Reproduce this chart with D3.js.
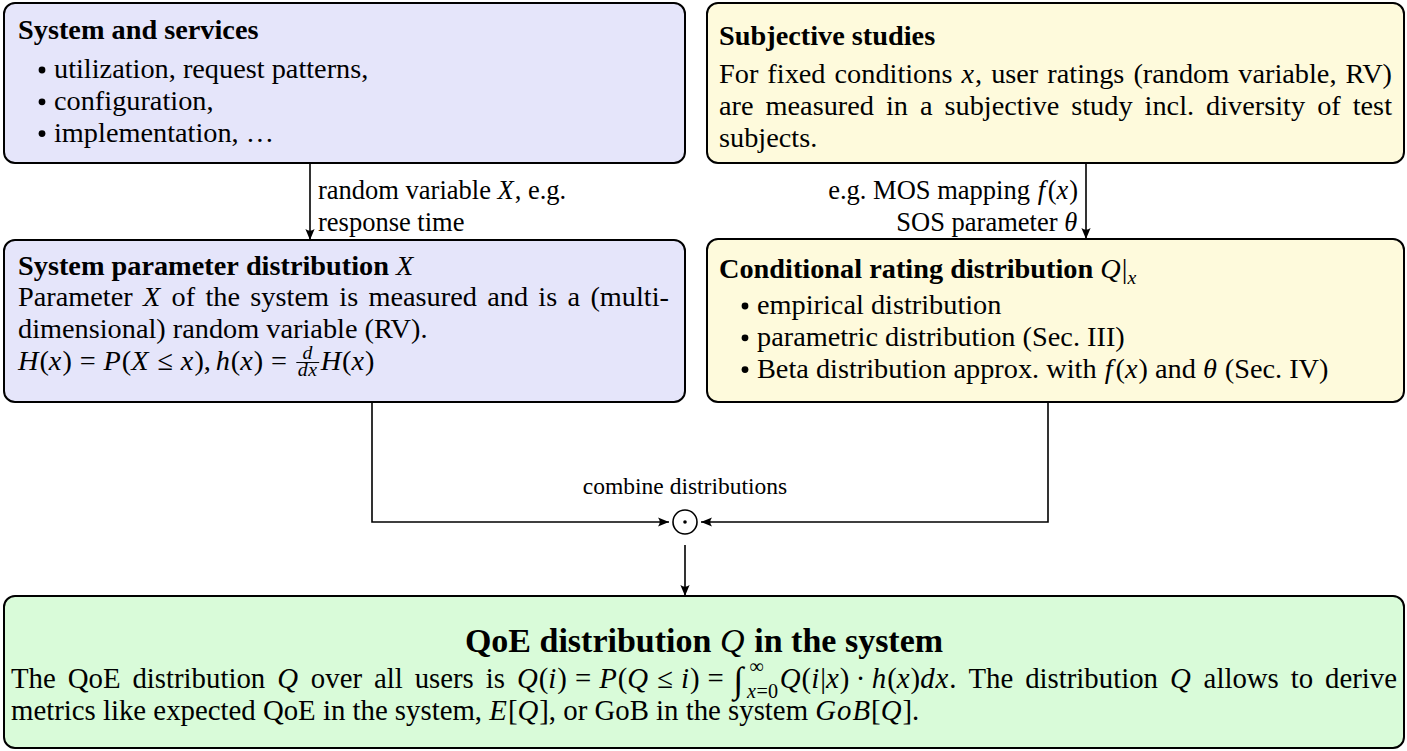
<!DOCTYPE html><html><meta charset="UTF-8">
<title>QoE distribution</title>
<style>
body{margin:0;overflow:hidden;background:#fff}
text{font-family:"Liberation Serif","Times New Roman",serif;fill:#000}
.box{stroke:#000;stroke-width:2}
.wire{stroke:#000;stroke-width:1.6;fill:none}
</style>
<script src="https://d3js.org/d3.v7.min.js"></script>
<svg width="1407" height="751"></svg>
<script>

// texts of the nodes, with $...$ for math
var sysTitle = "System and services",
    sysItems = ["utilization, request patterns,", "configuration,", "implementation, $\\ldots$"],
    studyTitle = "Subjective studies",
    studyText = ["For fixed conditions $x$, user ratings (random variable, RV)",
                 "are measured in a subjective study incl. diversity of test",
                 "subjects."],
    paramTitle = "System parameter distribution $X$",
    paramText = ["Parameter $X$ of the system is measured and is a (multi-",
                 "dimensional) random variable (RV).",
                 "$H(x) = P(X \\leq x), h(x) = \\frac{d}{dx}H(x)$"],
    ratingTitle = "Conditional rating distribution $Q|_{x}$",
    ratingItems = ["empirical distribution", "parametric distribution (Sec. III)",
                   "Beta distribution approx. with $f(x)$ and $\\theta$ (Sec. IV)"],
    leftLabel = ["random variable $X$, e.g.", "response time"],
    rightLabel = ["e.g. MOS mapping $f(x)$", "SOS parameter $\\theta$"],
    combineLabel = "combine distributions",
    qoeTitle = "QoE distribution $Q$ in the system",
    qoeText = ["The QoE distribution $Q$ over all users is $Q(i) = P(Q \\leq i) = \\int_{x=0}^{\\infty} Q(i|x) \\cdot h(x)dx$. The distribution $Q$ allows to derive",
               "metrics like expected QoE in the system, $E[Q]$, or GoB in the system $GoB[Q]$."];

var svg = d3.select("svg"),
    FS = 28.3;

var meas = svg.append("text").attr("x", -999).attr("y", -999).style("visibility", "hidden");

function fontAttrs(sel, style, fs) {
  sel.attr("font-size", fs)
     .attr("font-style", style.indexOf("i") >= 0 ? "italic" : "normal")
     .attr("font-weight", style.indexOf("b") >= 0 ? "bold" : "normal");
}
function textW(t, style, fs) {
  meas.text(t).call(fontAttrs, style, fs);
  return meas.node().getComputedTextLength();
}

// a single run of text with optional room on both sides
function glyph(t, style, fs, dy, padL, padR) {
  padL = padL || 0; padR = padR || 0;
  return {w: textW(t, style, fs) + padL + padR, draw: function(g, x, y) {
    g.append("text").attr("x", x + padL).attr("y", y + (dy || 0)).call(fontAttrs, style, fs).text(t);
  }};
}

var syms = {leq: "\u2264", infty: "\u221e", theta: "\u03b8", cdot: "\u00b7", ldots: "\u2026", int: "\u222b"};

function parseMath(s, fs, script) {
  var i = 0, out = [];
  var thick = script ? 0 : fs * 0.278, med = script ? 0 : fs * 0.222, thin = script ? 0 : fs * 0.167;
  function group() {
    if (s[i] === "{") {
      var d = 1, j = i + 1;
      while (d) { if (s[j] === "{") d++; else if (s[j] === "}") d--; j++; }
      var g = s.slice(i + 1, j - 1); i = j; return g;
    }
    return s[i++];
  }
  while (i < s.length) {
    var c = s[i];
    if (c === " ") { i++; continue; }
    if (c === "_" || c === "^") {
      var base = out.pop(), sub = null, sup = null;
      while (s[i] === "_" || s[i] === "^") {
        var k = s[i++], gr = group();
        if (k === "_") sub = gr; else sup = gr;
      }
      out.push(scripts(base, sub && parseMath(sub, fs * 0.7, true), sup && parseMath(sup, fs * 0.7, true), fs));
      continue;
    }
    if (c === "\\") {
      var m = /^\\([a-zA-Z]+)/.exec(s.slice(i)); i += m[0].length;
      var name = m[1], ch = syms[name];
      if (name === "frac") {
        var n = group(), dn = group();
        out.push(frac(parseMath(n, fs * 0.7, true), parseMath(dn, fs * 0.7, true), fs));
      } else if (name === "int") {
        var ig = glyph(ch, "r", fs * 1.25, fs * 0.14, fs * 0.06, fs * 0.12);
        ig.integral = true; out.push(ig);
      } else if (name === "leq") {
        out.push(glyph(ch, "r", fs, 0, thick, thick));
      } else if (name === "cdot") {
        out.push(glyph(ch, "r", fs, 0, med, med));
      } else if (name === "theta") {
        out.push(glyph(ch, "i", fs, 0, 0, fs * 0.03));
      } else {
        out.push(glyph(ch, "r", fs));
      }
      continue;
    }
    i++;
    if (/[A-Za-z]/.test(c)) out.push(glyph(c, "i", fs, 0, c === "f" ? fs * 0.04 : 0, c === "f" ? fs * 0.1 : fs * 0.035));
    else if (c === "=") out.push(glyph(c, "r", fs, 0, thick, thick));
    else if (c === ",") out.push(glyph(c, "r", fs, 0, 0, thin));
    else out.push(glyph(c, "r", fs));
  }
  return out;
}

function rowW(atoms) { return d3.sum(atoms, function(a) { return a.w; }); }
function drawRow(g, atoms, x, y) {
  atoms.forEach(function(a) { a.draw(g, x, y); x += a.w; });
}

function scripts(base, sub, sup, fs) {
  var big = base.integral;
  var ws = sub ? rowW(sub) : 0, wp = sup ? rowW(sup) : 0;
  return {w: base.w + Math.max(ws, wp + (big ? fs * 0.08 : 0)) + fs * 0.06, draw: function(g, x, y) {
    base.draw(g, x, y);
    var xs = x + base.w;
    if (sub) drawRow(g, sub, xs, y + (big ? fs * 0.36 : fs * 0.2));
    if (sup) drawRow(g, sup, xs + (big ? fs * 0.08 : 0), y - (big ? fs * 0.52 : fs * 0.4));
  }};
}

function frac(num, den, fs) {
  var wn = rowW(num), wd = rowW(den), w = Math.max(wn, wd) + fs * 0.1;
  return {w: w + fs * 0.1, draw: function(g, x, y) {
    var cx = x + fs * 0.05 + w / 2, ay = y - fs * 0.25;
    g.append("line").attr("x1", x + fs * 0.05).attr("x2", x + fs * 0.05 + w)
      .attr("y1", ay).attr("y2", ay).attr("stroke", "#000").attr("stroke-width", 1);
    drawRow(g, num, cx - wn / 2, ay - fs * 0.12);
    drawRow(g, den, cx - wd / 2, ay + fs * 0.48);
  }};
}

function parseLine(str, style, fs) {
  var out = [];
  str.split("$").forEach(function(p, i) {
    if (i % 2) out = out.concat(parseMath(p, fs, false));
    else p.split(/( )/).forEach(function(w) {
      if (w === " ") out.push({space: true, w: fs * 0.25});
      else if (w) out.push(glyph(w, style, fs));
    });
  });
  return out;
}

function drawLine(g, str, x, y, opts) {
  opts = opts || {};
  var fs = opts.fs || FS, atoms = parseLine(str, opts.style || "r", fs);
  var nat = rowW(atoms), nsp = atoms.filter(function(a) { return a.space; }).length;
  var extra = opts.justify && nsp ? Math.max(0, (opts.justify - nat) / nsp) : 0;
  var x0 = opts.anchor === "end" ? x - nat : opts.anchor === "middle" ? x - nat / 2 : x;
  atoms.forEach(function(a) {
    if (a.space) x0 += a.w + extra;
    else { a.draw(g, x0, y); x0 += a.w; }
  });
}

// --- layout ---
var lineH = 31.8;
var nodes = [
  {id: "sys", x: 4, y: 3, w: 681, h: 160, fill: "#e5e5fa"},
  {id: "study", x: 707, y: 3, w: 697, h: 160, fill: "#fefadc"},
  {id: "param", x: 4, y: 240, w: 681, h: 162, fill: "#e5e5fa"},
  {id: "rating", x: 707, y: 239, w: 697, h: 163, fill: "#fefadc"},
  {id: "qoe", x: 4, y: 596, w: 1400, h: 152, fill: "#d9fbd9"}
];
var byId = {};
nodes.forEach(function(n) { byId[n.id] = n; });

svg.append("defs").append("marker")
  .attr("id", "arr").attr("viewBox", "-12 -6 14 12").attr("refX", 0).attr("refY", 0)
  .attr("markerWidth", 14).attr("markerHeight", 12).attr("markerUnits", "userSpaceOnUse")
  .attr("orient", "auto")
  .append("path").attr("d", "M0,0 L-11,-4.6 Q-7.5,0 -11,4.6 Z").attr("fill", "#000");

svg.selectAll("rect.box").data(nodes).enter().append("rect")
  .attr("class", "box")
  .attr("x", function(d) { return d.x; }).attr("y", function(d) { return d.y; })
  .attr("width", function(d) { return d.w; }).attr("height", function(d) { return d.h; })
  .attr("rx", 11).attr("ry", 11)
  .attr("fill", function(d) { return d.fill; });

var g = svg.append("g");
var pad = 12;

function bullets(node, items, y0) {
  items.forEach(function(t, i) {
    var y = y0 + i * lineH;
    g.append("circle").attr("cx", node.x + 38).attr("cy", y - 8).attr("r", 3.4).attr("fill", "#000");
    drawLine(g, t, node.x + 50, y);
  });
}

// System and services
var n = byId.sys;
drawLine(g, sysTitle, n.x + pad + 2, 39, {style: "b"});
bullets(n, sysItems, 78);

// Subjective studies
n = byId.study;
drawLine(g, studyTitle, n.x + pad, 45, {style: "b"});
studyText.forEach(function(t, i) {
  drawLine(g, t, n.x + pad, 83 + i * lineH, {justify: i < studyText.length - 1 ? n.w - 2 * pad : 0});
});

// System parameter distribution
n = byId.param;
drawLine(g, paramTitle, n.x + pad + 2, 275, {style: "b"});
paramText.forEach(function(t, i) {
  drawLine(g, t, n.x + pad + 2, 306 + i * lineH, {justify: i === 0 ? n.w - 2 * pad - 6 : 0});
});

// Conditional rating distribution
n = byId.rating;
drawLine(g, ratingTitle, n.x + pad, 278, {style: "b"});
bullets(n, ratingItems, 314);

// arrows between the upper nodes
var ax1 = 310, ax2 = 1086, lfs = 26.5;
svg.append("line").attr("class", "wire").attr("x1", ax1).attr("x2", ax1).attr("y1", 163).attr("y2", 240).attr("marker-end", "url(#arr)");
svg.append("line").attr("class", "wire").attr("x1", ax2).attr("x2", ax2).attr("y1", 163).attr("y2", 239).attr("marker-end", "url(#arr)");
leftLabel.forEach(function(t, i) { drawLine(g, t, ax1 + 8, 199 + i * lineH, {fs: lfs}); });
rightLabel.forEach(function(t, i) { drawLine(g, t, ax2 - 8, 199 + i * lineH, {anchor: "end", fs: lfs}); });

// combine
var cx = 685, cy = 522, cr = 12;
svg.append("path").attr("class", "wire").attr("d", "M372,402 V" + cy + " H" + (cx - cr - 4)).attr("marker-end", "url(#arr)");
svg.append("path").attr("class", "wire").attr("d", "M1048,402 V" + cy + " H" + (cx + cr + 4)).attr("marker-end", "url(#arr)");
svg.append("circle").attr("cx", cx).attr("cy", cy).attr("r", cr).attr("fill", "none").attr("stroke", "#000").attr("stroke-width", 1.6);
svg.append("circle").attr("cx", cx).attr("cy", cy).attr("r", 1.8).attr("fill", "#000");
drawLine(g, combineLabel, cx, 494, {anchor: "middle", fs: 23.5});
svg.append("line").attr("class", "wire").attr("x1", cx).attr("x2", cx).attr("y1", cy + cr + 11).attr("y2", 596).attr("marker-end", "url(#arr)");

// QoE distribution
n = byId.qoe;
drawLine(g, qoeTitle, n.x + n.w / 2, 652, {style: "b", fs: 34, anchor: "middle"});
qoeText.forEach(function(t, i) {
  drawLine(g, t, n.x + 7, 688 + i * lineH, {justify: i === 0 ? n.w - 14 : 0, fs: 28.8});
});

</script>
